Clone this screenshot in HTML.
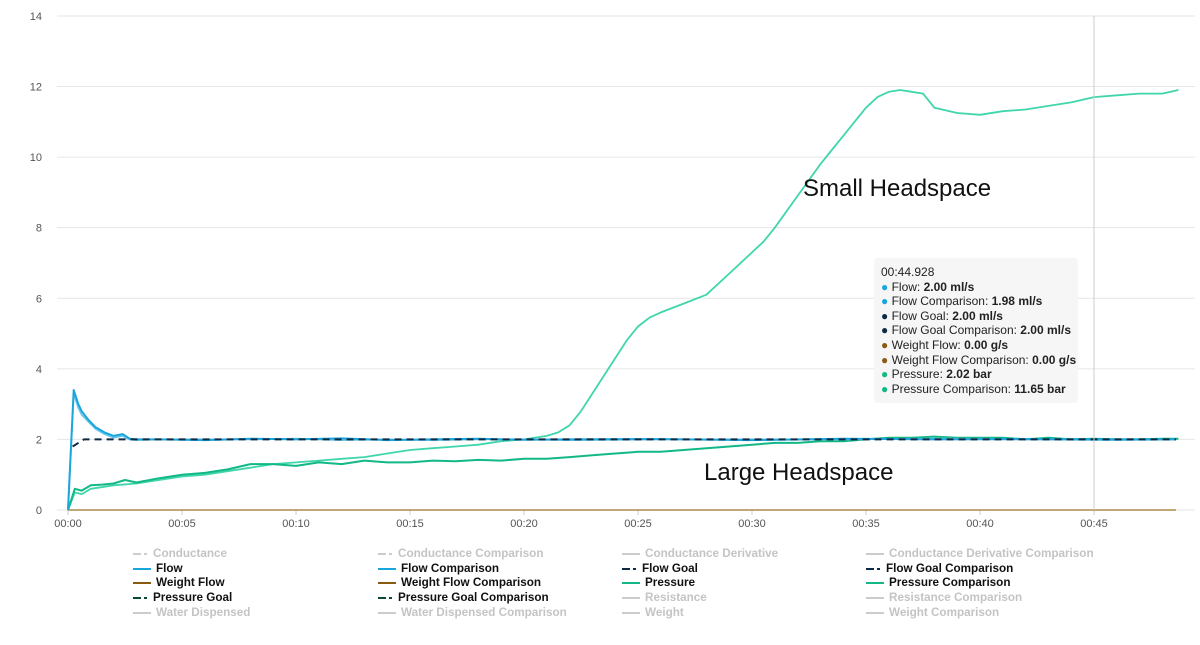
<!DOCTYPE html>
<html><head><meta charset="utf-8"><style>
body{margin:0;background:#fff;font-family:"Liberation Sans",sans-serif;}
svg text{font-family:"Liberation Sans",sans-serif;}
</style></head><body>
<svg id="c" width="1200" height="640"></svg>
<script>
const yTicks=[0,2,4,6,8,10,12,14];
const xTicks=[0,5,10,15,20,25,30,35,40,45];
const flowT=[0,0.25,0.45,0.6,0.9,1.2,1.6,2.0,2.4,2.7,3,4,6,8,10,12,14,16,18,20,22,26,30,34,38,42,46,48.6];
const flowV=[0,3.4,3.0,2.8,2.55,2.35,2.2,2.1,2.15,2.02,2.0,2.0,1.98,2.02,2.0,2.03,1.98,2.0,2.02,1.99,2.0,2.01,1.98,2.02,2.0,2.01,2.0,2.0];
const flowCV=[0,3.3,2.9,2.7,2.5,2.3,2.15,2.05,2.1,2.0,1.98,2.0,2.0,2.0,2.02,1.98,2.0,1.98,2.0,2.0,1.98,2.0,2.0,2.0,2.02,2.0,1.98,2.0];
const goalT=[0.2,0.7,48.6];
const goalV=[1.8,2.0,2.0];
const pT=[0,0.3,0.6,1,1.5,2,2.5,3,4,5,6,7,8,9,10,11,12,13,14,15,16,17,18,19,20,21,22,23,24,25,26,27,28,29,30,31,32,33,34,35,36,37,38,39,40,41,42,43,44,45,46,47,48,48.7];
const pV=[0,0.6,0.55,0.7,0.72,0.75,0.85,0.78,0.9,1.0,1.05,1.15,1.3,1.3,1.25,1.35,1.3,1.4,1.35,1.35,1.4,1.38,1.42,1.4,1.45,1.45,1.5,1.55,1.6,1.65,1.65,1.7,1.75,1.8,1.85,1.9,1.9,1.95,1.95,2.0,2.05,2.05,2.08,2.05,2.05,2.05,2.0,2.05,2.0,2.02,2.0,2.0,2.02,2.02];
const pcT=[0,0.3,0.6,1,2,3,4,5,6,7,8,9,10,11,12,13,14,15,16,17,18,19,20,21,21.5,22,22.5,23,23.5,24,24.5,25,25.5,26,27,28,29,30,30.5,31,32,33,33.5,34,34.5,35,35.5,36,36.5,37,37.5,38,39,40,41,42,43,44,45,46,47,48,48.7];
const pcV=[0,0.5,0.45,0.6,0.7,0.75,0.85,0.95,1.0,1.1,1.2,1.3,1.35,1.4,1.45,1.5,1.6,1.7,1.75,1.8,1.85,1.95,2.0,2.1,2.2,2.4,2.8,3.3,3.8,4.3,4.8,5.2,5.45,5.6,5.85,6.1,6.7,7.3,7.6,8.0,8.9,9.8,10.2,10.6,11.0,11.4,11.7,11.85,11.9,11.85,11.8,11.4,11.25,11.2,11.3,11.35,11.45,11.55,11.7,11.75,11.8,11.8,11.9];
const wT=[0,48.6];
const wV=[0,0];

const NS="http://www.w3.org/2000/svg";
const svg=document.getElementById('c');
const X=t=>68+t*22.8, Y=v=>510-v*35.29;
function el(tag,attrs,parent){const e=document.createElementNS(NS,tag);for(const k in attrs)e.setAttribute(k,attrs[k]);(parent||svg).appendChild(e);return e;}
yTicks.forEach(v=>{
 const l=el('line',{x1:57,x2:1195,y1:Y(v),y2:Y(v),stroke:'#e6e6e6'});
 
 
 const t=el('text',{x:42,y:Y(v)+4,'font-size':11,fill:'#555','text-anchor':'end'});t.textContent=v;
 
 
});
xTicks.forEach(s=>{
 const t=el('text',{x:X(s),y:527,'font-size':11,fill:'#555','text-anchor':'middle'});
 t.textContent='00:'+String(s).padStart(2,'0');
 
 
 const k=el('line',{x1:X(s),x2:X(s),y1:510,y2:515,stroke:'#ccc'});
 
 
});
function line(T,V,color,w,dash,name){
 const d=T.map((t,i)=>(i?'L':'M')+X(t).toFixed(1)+','+Y(V[i]).toFixed(1)).join('');
 const p=el('path',{d:d,fill:'none',stroke:color,'stroke-width':w,'stroke-dasharray':dash||'none','stroke-linejoin':'round'});
 
 
}
line(wT,wV,'#b08a4a',1.5,null,'weight-flow-line');
line(pcT,pcV,'#3fd6ac',1.8,null,'pressure-comparison-line');
line(pT,pV,'#12b886',2,null,'pressure-line');
line(flowT,flowCV,'#6cc8ea',1.8,null,'flow-comparison-line');
line(flowT,flowV,'#1aa6dd',2,null,'flow-line');
line(goalT,goalV,'#0d2b45',2,'7,5','flow-goal-line');
const vl=el('line',{x1:1094,x2:1094,y1:16,y2:510,stroke:'#ccc'});


</script>
<div style="position:absolute;left:803px;top:175px;font-size:24px;color:#111">Small Headspace</div>
<div style="position:absolute;left:704px;top:459px;font-size:24px;color:#111">Large Headspace</div>
<div style="position:absolute;left:874px;top:258px;width:204px;height:145px;background:rgba(245,245,245,0.95);border-radius:3px;font-size:12px;color:#222;box-sizing:border-box;padding:7px 0 0 7px;line-height:14.6px">
<div>00:44.928</div>
<div><span style="color:#1aa6dd">●</span> Flow: <b>2.00 ml/s</b></div>
<div><span style="color:#1aa6dd">●</span> Flow Comparison: <b>1.98 ml/s</b></div>
<div><span style="color:#0d2b45">●</span> Flow Goal: <b>2.00 ml/s</b></div>
<div><span style="color:#0d2b45">●</span> Flow Goal Comparison: <b>2.00 ml/s</b></div>
<div><span style="color:#8b5a12">●</span> Weight Flow: <b>0.00 g/s</b></div>
<div><span style="color:#8b5a12">●</span> Weight Flow Comparison: <b>0.00 g/s</b></div>
<div><span style="color:#12b886">●</span> Pressure: <b>2.02 bar</b></div>
<div><span style="color:#12b886">●</span> Pressure Comparison: <b>11.65 bar</b></div>
</div>
<div style="position:absolute;left:0;top:547px;width:1200px;font-size:11.7px;font-weight:bold">
<script>
const cols=[133,378,622,866];
const items=[
["Conductance","#ccc","dash",0],["Conductance Comparison","#ccc","dash",0],["Conductance Derivative","#ccc","solid",0],["Conductance Derivative Comparison","#ccc","solid",0],
["Flow","#1aa6dd","solid",1],["Flow Comparison","#1aa6dd","solid",1],["Flow Goal","#0d2b45","dash",1],["Flow Goal Comparison","#0d2b45","dash",1],
["Weight Flow","#8b5a12","solid",1],["Weight Flow Comparison","#8b5a12","solid",1],["Pressure","#12b886","solid",1],["Pressure Comparison","#12b886","solid",1],
["Pressure Goal","#0b4a3a","dash",1],["Pressure Goal Comparison","#0b4a3a","dash",1],["Resistance","#ccc","solid",0],["Resistance Comparison","#ccc","solid",0],
["Water Dispensed","#ccc","solid",0],["Water Dispensed Comparison","#ccc","solid",0],["Weight","#ccc","solid",0],["Weight Comparison","#ccc","solid",0]];
const lg=document.currentScript.parentNode;
items.forEach((it,i)=>{
 const d=document.createElement('div');
 
 
 d.style.cssText='position:absolute;white-space:nowrap;left:'+cols[i%4]+'px;top:'+(Math.floor(i/4)*14.7)+'px;color:'+(it[3]?'#111':'#c4c4c4');
 const sw=it[2]==='dash'?'<span style="display:inline-block;width:8px;height:2px;background:'+it[1]+';vertical-align:middle"></span><span style="display:inline-block;width:3px;height:2px;margin-left:3px;margin-right:4px;background:'+it[1]+';vertical-align:middle"></span>':'<span style="display:inline-block;width:18px;height:2px;margin-right:3px;background:'+it[1]+';vertical-align:middle"></span>';
 d.innerHTML=sw+'<span style="margin-left:2px">'+it[0]+'</span>';
 lg.appendChild(d);
});
</script>
</div>
</body></html>
